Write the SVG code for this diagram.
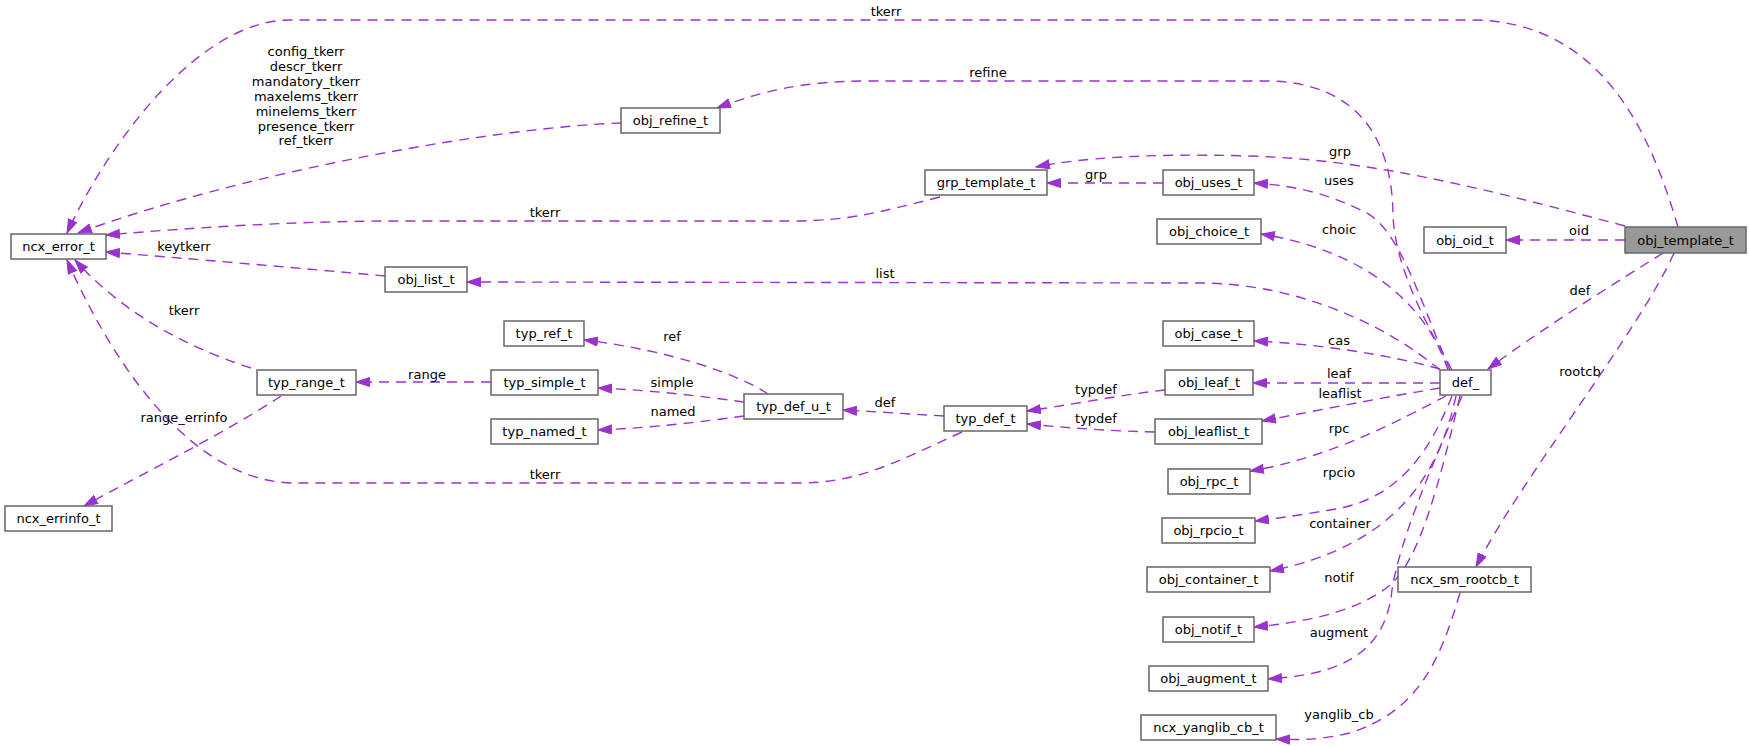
<svg xmlns="http://www.w3.org/2000/svg" width="1749" height="746" viewBox="0 0 1749 746">
<style>
.n rect{fill:#ffffff;stroke:#666666;stroke-width:1.5}
.n text,.l{font-family:"DejaVu Sans",sans-serif;font-size:13px;fill:#000000}
.n text{text-anchor:middle}
.l{text-anchor:middle}
.e path{fill:none;stroke:#9a32cd;stroke-width:1.4;stroke-dasharray:10,7;marker-end:url(#a)}
</style>
<defs>
<marker id="a" markerUnits="userSpaceOnUse" markerWidth="16" markerHeight="12" refX="14" refY="5" orient="auto">
<path d="M0.5,0.5 L14,5 L0.5,9.5 z" fill="#9a32cd" stroke="#9a32cd" stroke-width="1" stroke-dasharray="none"/>
</marker>
</defs>
<rect width="1749" height="746" fill="#ffffff"/>
<g class="e" id="edges">
<path d="M1678,227 C1655,150 1610,20 1471,20 L290,20 C200,20 110,140 67,233"/>
<path d="M1625,226 C1500,193 1380,160 1250,156 C1150,153 1080,158 1036,167"/>
<path d="M1625,240 L1506,240"/>
<path d="M1663,253 C1620,280 1540,330 1488,369"/>
<path d="M1674,253 C1640,330 1520,480 1476,567"/>
<path d="M1452,370 C1430,330 1395,270 1393,215 C1392,130 1350,81 1265,81 L870,81 C800,81 760,92 717,108"/>
<path d="M621,123 C500,127 250,170 78,233"/>
<path d="M1450,370 C1420,300 1400,230 1365,212 C1330,195 1300,186 1254,183"/>
<path d="M1448,370 C1425,300 1360,250 1261,234"/>
<path d="M1440,370 C1380,320 1290,283 1200,283 L467,282"/>
<path d="M385,276 C300,268 180,258 106,252"/>
<path d="M940,197 C880,212 850,221 790,221 L400,221 C300,221 200,227 106,235"/>
<path d="M1163,183 L1047,183"/>
<path d="M251,368 C180,345 120,310 75,260"/>
<path d="M962,432 C900,460 860,483 800,483 L295,483 C200,483 120,380 67,260"/>
<path d="M281,396 C230,430 150,470 84,506"/>
<path d="M491,382 L356,382"/>
<path d="M768,394 C740,375 670,350 584,340"/>
<path d="M744,402 C700,396 650,390 598,388"/>
<path d="M744,416 C700,422 650,428 598,430"/>
<path d="M944,416 C910,414 880,412 843,410"/>
<path d="M1165,390 C1120,395 1070,405 1027,411"/>
<path d="M1155,432 C1110,431 1070,428 1027,424"/>
<path d="M1440,369 C1390,355 1320,344 1254,341"/>
<path d="M1440,383 L1253,383"/>
<path d="M1440,388 C1380,398 1320,410 1262,421"/>
<path d="M1446,396 C1400,420 1330,458 1250,471"/>
<path d="M1452,396 C1430,450 1400,500 1330,510 C1300,515 1280,518 1255,521"/>
<path d="M1456,396 C1440,470 1400,545 1270,571"/>
<path d="M1460,396 C1440,480 1420,560 1390,585 C1360,610 1310,622 1254,627"/>
<path d="M1462,396 C1430,470 1400,540 1392,590 C1385,660 1330,675 1268,679"/>
<path d="M1460,593 C1440,660 1420,710 1350,733 C1320,740 1300,740 1276,739"/>
</g>
<g id="labels">
<text class="l" x="886" y="16">tkerr</text>
<text class="l" x="1340" y="156">grp</text>
<text class="l" x="1579" y="235">oid</text>
<text class="l" x="1580" y="295">def</text>
<text class="l" x="1580" y="376">rootcb</text>
<text class="l" x="988" y="77">refine</text>
<text class="l" x="306"><tspan x="306" y="56">config_tkerr</tspan><tspan x="306" y="71">descr_tkerr</tspan><tspan x="306" y="86">mandatory_tkerr</tspan><tspan x="306" y="101">maxelems_tkerr</tspan><tspan x="306" y="116">minelems_tkerr</tspan><tspan x="306" y="131">presence_tkerr</tspan><tspan x="306" y="145">ref_tkerr</tspan></text>
<text class="l" x="1339" y="185">uses</text>
<text class="l" x="1339" y="234">choic</text>
<text class="l" x="885" y="278">list</text>
<text class="l" x="184" y="251">keytkerr</text>
<text class="l" x="545" y="217">tkerr</text>
<text class="l" x="1096" y="179">grp</text>
<text class="l" x="184" y="315">tkerr</text>
<text class="l" x="545" y="479">tkerr</text>
<text class="l" x="184" y="422">range_errinfo</text>
<text class="l" x="427" y="379">range</text>
<text class="l" x="672" y="341">ref</text>
<text class="l" x="672" y="387">simple</text>
<text class="l" x="673" y="416">named</text>
<text class="l" x="885" y="407">def</text>
<text class="l" x="1096" y="394">typdef</text>
<text class="l" x="1096" y="423">typdef</text>
<text class="l" x="1339" y="345">cas</text>
<text class="l" x="1339" y="378">leaf</text>
<text class="l" x="1340" y="398">leaflist</text>
<text class="l" x="1339" y="433">rpc</text>
<text class="l" x="1339" y="477">rpcio</text>
<text class="l" x="1340" y="528">container</text>
<text class="l" x="1339" y="582">notif</text>
<text class="l" x="1339" y="637">augment</text>
<text class="l" x="1339" y="719">yanglib_cb</text>
</g>
<g class="n" id="obj_template_t"><rect x="1625" y="227" width="121" height="26" style="fill:#999999"/><text x="1685.5" y="244.5">obj_template_t</text></g>
<g class="n" id="ncx_error_t"><rect x="11" y="234" width="95" height="25"/><text x="58.5" y="251">ncx_error_t</text></g>
<g class="n" id="obj_refine_t"><rect x="621" y="108" width="99" height="25"/><text x="670.5" y="125">obj_refine_t</text></g>
<g class="n" id="grp_template_t"><rect x="925" y="170" width="122" height="25"/><text x="986" y="187">grp_template_t</text></g>
<g class="n" id="obj_uses_t"><rect x="1163" y="170" width="91" height="25"/><text x="1208.5" y="187">obj_uses_t</text></g>
<g class="n" id="obj_choice_t"><rect x="1157" y="219" width="104" height="25"/><text x="1209" y="236">obj_choice_t</text></g>
<g class="n" id="obj_oid_t"><rect x="1424" y="227" width="82" height="26"/><text x="1465" y="244.5">obj_oid_t</text></g>
<g class="n" id="obj_list_t"><rect x="385" y="267" width="82" height="25"/><text x="426" y="284">obj_list_t</text></g>
<g class="n" id="typ_ref_t"><rect x="504" y="321" width="80" height="25"/><text x="544" y="338">typ_ref_t</text></g>
<g class="n" id="typ_range_t"><rect x="257" y="370" width="99" height="25"/><text x="306.5" y="387">typ_range_t</text></g>
<g class="n" id="typ_simple_t"><rect x="491" y="370" width="107" height="25"/><text x="544.5" y="387">typ_simple_t</text></g>
<g class="n" id="typ_named_t"><rect x="491" y="419" width="107" height="25"/><text x="544.5" y="436">typ_named_t</text></g>
<g class="n" id="typ_def_u_t"><rect x="744" y="394" width="99" height="25"/><text x="793.5" y="411">typ_def_u_t</text></g>
<g class="n" id="typ_def_t"><rect x="944" y="406" width="83" height="25"/><text x="985.5" y="423">typ_def_t</text></g>
<g class="n" id="obj_case_t"><rect x="1163" y="321" width="91" height="25"/><text x="1208.5" y="338">obj_case_t</text></g>
<g class="n" id="obj_leaf_t"><rect x="1165" y="370" width="88" height="25"/><text x="1209" y="387">obj_leaf_t</text></g>
<g class="n" id="obj_leaflist_t"><rect x="1155" y="419" width="107" height="25"/><text x="1208.5" y="436">obj_leaflist_t</text></g>
<g class="n" id="def_"><rect x="1440" y="370" width="51" height="25"/><text x="1465.5" y="387">def_</text></g>
<g class="n" id="obj_rpc_t"><rect x="1168" y="469" width="82" height="25"/><text x="1209" y="486">obj_rpc_t</text></g>
<g class="n" id="obj_rpcio_t"><rect x="1162" y="518" width="93" height="25"/><text x="1208.5" y="535">obj_rpcio_t</text></g>
<g class="n" id="obj_container_t"><rect x="1147" y="567" width="123" height="25"/><text x="1208.5" y="584">obj_container_t</text></g>
<g class="n" id="ncx_sm_rootcb_t"><rect x="1398" y="567" width="133" height="25"/><text x="1464.5" y="584">ncx_sm_rootcb_t</text></g>
<g class="n" id="obj_notif_t"><rect x="1163" y="617" width="91" height="25"/><text x="1208.5" y="634">obj_notif_t</text></g>
<g class="n" id="obj_augment_t"><rect x="1149" y="666" width="119" height="25"/><text x="1208.5" y="683">obj_augment_t</text></g>
<g class="n" id="ncx_yanglib_cb_t"><rect x="1141" y="715" width="135" height="25"/><text x="1208.5" y="732">ncx_yanglib_cb_t</text></g>
<g class="n" id="ncx_errinfo_t"><rect x="5" y="506" width="107" height="25"/><text x="58.5" y="523">ncx_errinfo_t</text></g>
</svg>
